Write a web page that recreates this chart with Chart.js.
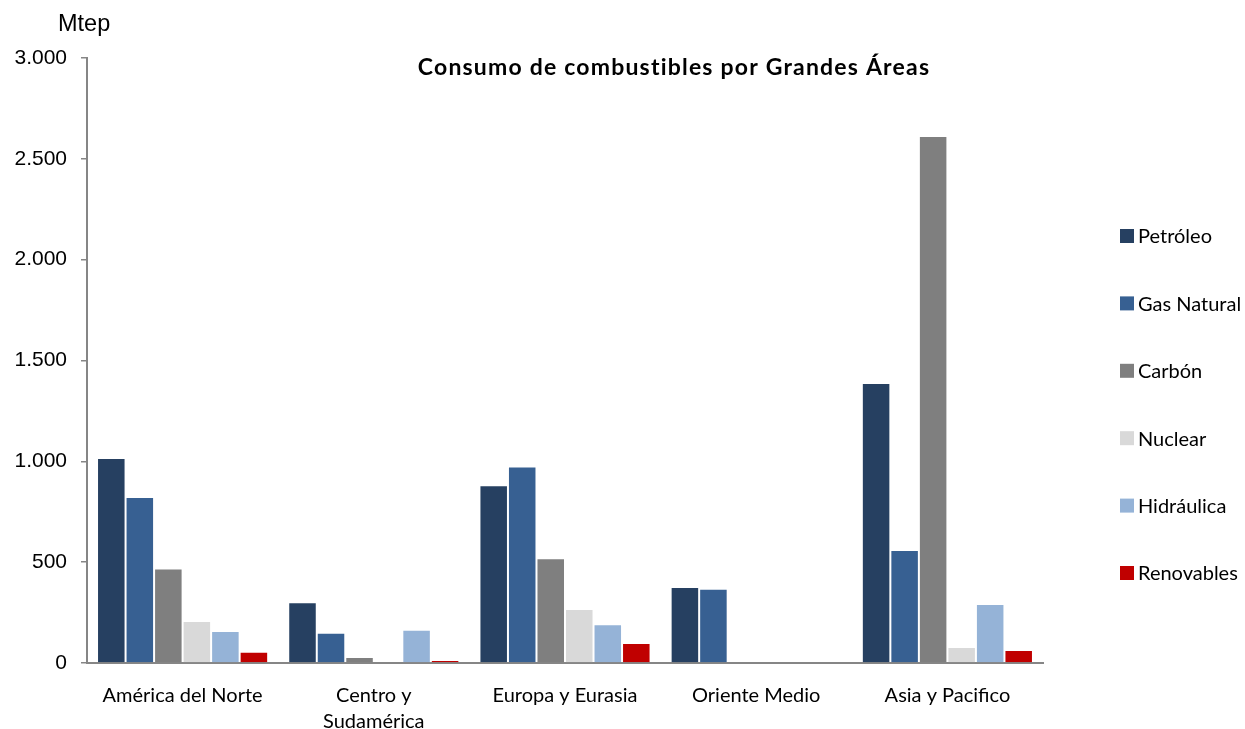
<!DOCTYPE html>
<html>
<head>
<meta charset="utf-8">
<script src="https://cdn.jsdelivr.net/npm/chart.js@4.4.1/dist/chart.umd.min.js"></script>
<style>
  html, body { margin: 0; padding: 0; background: #fff; }
  #wrap { width: 1245px; height: 729px; }
</style>
</head>
<body>
<div id="wrap"><canvas id="chart" width="1245" height="729"></canvas></div>
<script>
// categories and series (Mtep)
const areas = ["América del Norte", ["Centro y", "Sudamérica"], "Europa y Eurasia", "Oriente Medio", "Asia y Pacifico"];
const fuels = ["Petróleo", "Gas Natural", "Carbón", "Nuclear", "Hidráulica", "Renovables"];
const fuelColors = ["#264061", "#376092", "#7f7f7f", "#d9d9d9", "#95b3d7", "#c00000"];

const petroleo   = [1016, 301, 882, 377, 1388];
const gasNatural = [823, 150, 975, 368, 560];
const carbon     = [469, 30, 519, 0, 2613];
const nuclear    = [208, 0, 268, 0, 79];
const hidraulica = [159, 165, 192, 0, 292];
const renovables = [56, 15, 99, 0, 64];
const seriesValues = [petroleo, gasNatural, carbon, nuclear, hidraulica, renovables];

const yTicks = [0, 500, 1000, 1500, 2000, 2500, 3000];
const chartTitle = "Consumo de combustibles por Grandes Áreas";
const unitLabel = "Mtep";

const sansFont = "Lato, 'Open Sans', sans-serif";
const arialFont = "'Liberation Sans', Arial, sans-serif";

function formatEs(v) {
    return v.toString().replace(/\B(?=(\d{3})+(?!\d))/g, ".");
}

// title, unit label and legend are drawn by hand to sit where the original puts them
const decorations = {
    id: "decorations",
    afterDraw(chart) {
        const ctx = chart.ctx;
        ctx.save();
        ctx.fillStyle = "#000";
        ctx.textBaseline = "middle";

        ctx.font = "23.5px " + arialFont;
        ctx.textAlign = "left";
        ctx.fillText(unitLabel, 58, 25);

        ctx.font = "bold 23px " + sansFont;
        ctx.letterSpacing = "1.2px";
        ctx.textAlign = "center";
        ctx.fillText(chartTitle, 674, 68);
        ctx.letterSpacing = "0px";

        ctx.font = "20px " + sansFont;
        ctx.textAlign = "left";
        const legendTop = 236, legendStep = 67.4;
        chart.data.datasets.forEach((ds, i) => {
            const y = legendTop + i * legendStep;
            ctx.fillStyle = ds.backgroundColor;
            ctx.fillRect(1120, y - 7, 14, 14);
            ctx.fillStyle = "#000";
            ctx.fillText(ds.label, 1138, y + 1);
        });
        ctx.restore();
    }
};

const datasets = fuels.map((name, i) => ({
    label: name,
    data: seriesValues[i],
    backgroundColor: fuelColors[i],
    borderColor: "rgba(255,255,255,0.35)",
    borderWidth: 1,
    borderSkipped: "bottom"
}));

new Chart(document.getElementById("chart"), {
    type: "bar",
    data: { labels: areas, datasets: datasets },
    options: {
        responsive: false,
        animation: false,
        layout: { padding: { top: 58, right: 202, bottom: 0, left: 0 } },
        categoryPercentage: 0.895,
        barPercentage: 1.0,
        plugins: {
            legend: { display: false },
            title: { display: false },
            tooltip: { enabled: false }
        },
        scales: {
            x: {
                grid: { display: false, drawTicks: false },
                border: { color: "#868686", width: 2 },
                ticks: {
                    color: "#000",
                    padding: 20,
                    font: { family: sansFont, size: 20, lineHeight: 1.3 },
                    maxRotation: 0
                },
                afterFit(scale) { scale.height = 66; }
            },
            y: {
                min: 0,
                max: 3000,
                afterBuildTicks(scale) { scale.ticks = yTicks.map(v => ({ value: v })); },
                grid: { drawOnChartArea: false, drawTicks: true, tickLength: 6, color: "#868686", lineWidth: 1.5 },
                border: { color: "#868686", width: 2 },
                ticks: {
                    color: "#000",
                    padding: 14,
                    font: { family: arialFont, size: 21 },
                    callback: v => formatEs(v)
                },
                afterFit(scale) { scale.width = 87; }
            }
        }
    },
    plugins: [decorations]
});
</script>
</body>
</html>
